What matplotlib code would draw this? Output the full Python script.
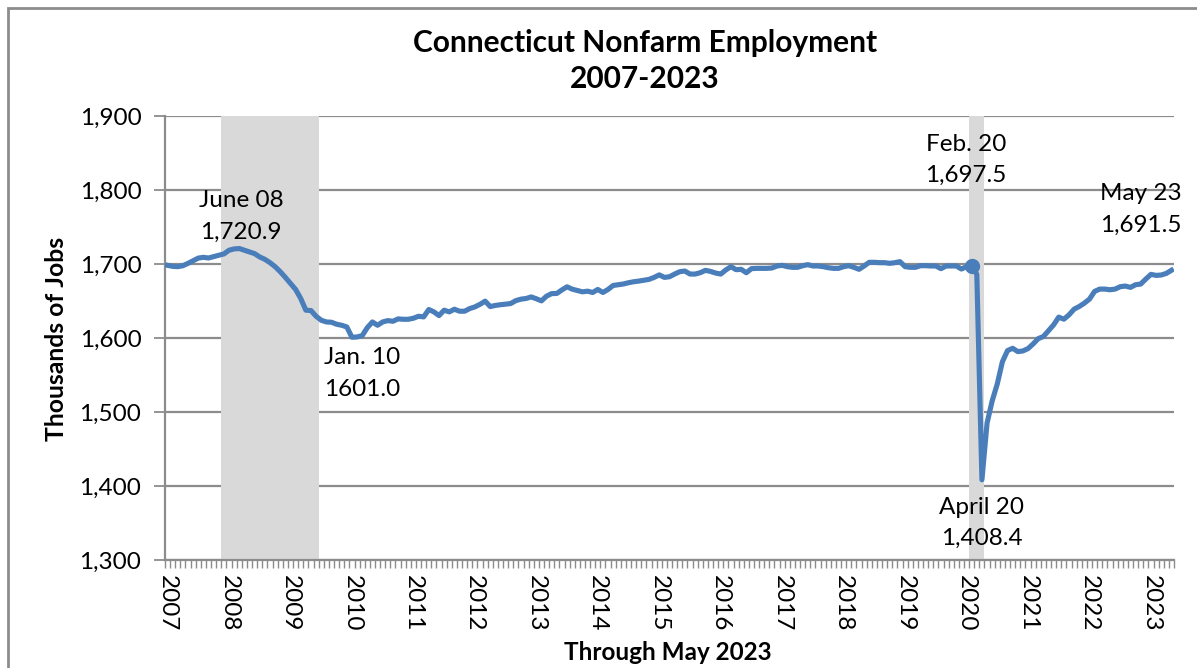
import matplotlib
matplotlib.use("Agg")
import matplotlib.pyplot as plt
import matplotlib.patches as mpatches
import numpy as np
import pandas as pd

plt.rcParams['font.family'] = ['Lato', 'DejaVu Sans']

# ---- data (thousands of jobs, monthly Jan 2007 - May 2023) ----
months = pd.date_range('2007-01-01', '2023-05-01', freq='MS')
employment = [
    # 2007
    1698.2, 1696.8, 1696.4, 1697.7, 1700.9, 1704.5, 1708.0, 1709.0, 1708.1, 1710.0, 1711.8, 1713.6,
    # 2008
    1718.6, 1720.4, 1720.9, 1718.6, 1716.3, 1714.0, 1709.5, 1706.3, 1701.8, 1696.4, 1689.6, 1681.9,
    # 2009
    1673.8, 1665.6, 1653.4, 1637.6, 1637.1, 1629.4, 1624.0, 1621.7, 1621.3, 1618.6, 1617.2, 1614.9,
    # 2010
    1601.0, 1601.4, 1603.2, 1614.0, 1621.7, 1617.2, 1621.7, 1623.5, 1622.6, 1625.8, 1625.3, 1625.3,
    # 2011
    1626.7, 1629.4, 1628.5, 1638.5, 1635.3, 1630.3, 1637.6, 1635.3, 1638.9, 1636.2, 1636.2, 1639.8,
    # 2012
    1642.0, 1645.5, 1649.8, 1642.5, 1644.0, 1645.0, 1645.7, 1646.6, 1650.5, 1652.5, 1653.4, 1655.5,
    # 2013
    1653.0, 1650.2, 1656.6, 1660.0, 1660.2, 1665.0, 1669.2, 1666.0, 1664.2, 1662.4, 1663.3, 1661.5,
    # 2014
    1665.6, 1661.5, 1665.6, 1671.0, 1672.0, 1673.0, 1674.7, 1676.0, 1676.9, 1678.0, 1679.2, 1681.9,
    # 2015
    1685.3, 1681.9, 1682.8, 1686.4, 1689.6, 1690.5, 1686.4, 1686.4, 1688.2, 1691.4, 1690.0, 1687.8,
    # 2016
    1686.4, 1692.0, 1696.4, 1692.3, 1692.8, 1688.2, 1693.7, 1694.1, 1694.1, 1694.1, 1694.6, 1697.3,
    # 2017
    1698.2, 1696.4, 1695.5, 1695.5, 1697.7, 1699.1, 1697.3, 1697.3, 1696.4, 1695.0, 1694.1, 1694.1,
    # 2018
    1696.4, 1697.7, 1695.5, 1692.8, 1697.3, 1702.3, 1702.3, 1701.8, 1701.8, 1700.9, 1701.8, 1703.2,
    # 2019
    1696.4, 1695.5, 1695.5, 1697.7, 1697.7, 1697.3, 1697.3, 1693.7, 1697.3, 1697.3, 1697.3, 1693.2,
    # 2020
    1696.4, 1697.5, 1686.0, 1408.4, 1485.0, 1515.0, 1538.0, 1568.0, 1583.0, 1586.1, 1581.6, 1582.5,
    # 2021
    1585.7, 1592.0, 1599.2, 1602.0, 1610.0, 1617.8, 1628.2, 1625.4, 1631.3, 1639.0, 1642.6, 1647.1,
    # 2022
    1652.6, 1663.0, 1666.1, 1666.1, 1665.2, 1666.1, 1669.3, 1670.2, 1668.4, 1672.0, 1672.9, 1679.7,
    # 2023
    1686.0, 1684.6, 1685.1, 1687.3, 1691.5,
]
year_labels = [str(y) for y in range(2007, 2024)]
y_ticks = [1300, 1400, 1500, 1600, 1700, 1800, 1900]
recessions = [('2007-12', '2009-06'), ('2020-02', '2020-04')]
# annotated points: (month, label)
annotations = [('2008-03', 'June 08'), ('2010-01', 'Jan. 10'),
               ('2020-02', 'Feb. 20'), ('2020-04', 'April 20'),
               ('2023-05', 'May 23')]

# ---- figure ----
W, H = 1197, 668
fig = plt.figure(figsize=(W / 100, H / 100), dpi=100)
ax = fig.add_axes([165 / W, 1 - 560 / H, (1174 - 165) / W, (560 - 116) / H])

x = np.arange(len(employment))
idx = {m.strftime('%Y-%m'): i for i, m in enumerate(months)}

line_color = '#4A7EBB'
grid_color = '#8c8c8c'
FS = 17.5

for start, end in recessions:
    ax.axvspan(idx[start] - 0.5, idx[end] + 0.5, color='#d9d9d9', zorder=1, lw=0)

ax.plot(x, employment, color=line_color, lw=3.7, zorder=3, solid_joinstyle='round')
feb20 = idx['2020-02']
ax.plot(feb20, employment[feb20], 'o', color=line_color, ms=10, zorder=4)

ax.set_xlim(-0.5, len(employment) - 0.5)
ax.set_ylim(1300, 1900)

ax.set_yticks(y_ticks)
ax.set_yticklabels([f'{v:,}' for v in y_ticks], fontsize=FS)
ax.yaxis.grid(True, color=grid_color, lw=1.6)
ax.set_axisbelow(True)
ax.tick_params(axis='y', direction='out', length=8, width=1.3, color=grid_color, pad=9)

ax.set_xticks(np.arange(0, len(employment), 12))
ax.set_xticklabels(year_labels, rotation=270, fontsize=FS, va='top', ha='center')
ax.set_xticks(np.arange(-0.5, len(employment), 1), minor=True)
ax.tick_params(axis='x', which='major', length=0, pad=11)
ax.tick_params(axis='x', which='minor', direction='out', length=6, width=1, color=grid_color)

for s in ['top', 'right']:
    ax.spines[s].set_visible(False)
for s in ['left', 'bottom']:
    ax.spines[s].set_color(grid_color)
    ax.spines[s].set_linewidth(1.6)

# annotations (text offsets in pixels from the point)
offsets = {'June 08': (2, 32), 'Jan. 10': (10, -36), 'Feb. 20': (-6, 106),
           'April 20': (0, -43), 'May 23': (-31, 61)}
for m, lab in annotations:
    i = idx[m]
    v = employment[i]
    val = f'{v:.1f}' if lab == 'Jan. 10' else f'{v:,.1f}'
    dx, dy = offsets[lab]
    ax.annotate(f'{lab}\n{val}', xy=(i, v), xytext=(dx * 0.72, dy * 0.72),
                textcoords='offset points', ha='center', va='center',
                fontsize=FS, linespacing=1.62, zorder=5)

fig.text(645 / W, 1 - 43 / H, 'Connecticut Nonfarm Employment', ha='center', va='center',
         fontsize=21.5, fontweight='bold')
fig.text(645 / W, 1 - 79 / H, '2007-2023', ha='center', va='center',
         fontsize=21.5, fontweight='bold')
fig.text(57 / W, 1 - 339 / H, 'Thousands of Jobs', ha='center', va='center',
         rotation=90, fontsize=17.8, fontweight='bold')
fig.text(668 / W, 1 - 652 / H, 'Through May 2023', ha='center', va='center',
         fontsize=17.5, fontweight='bold')

border = mpatches.Rectangle((8 / W, -0.2), 1.5, 1 - 8 / H + 0.2, transform=fig.transFigure,
                            fill=False, edgecolor=grid_color, lw=2)
fig.patches.append(border)

fig.savefig('out.png', dpi=100)
